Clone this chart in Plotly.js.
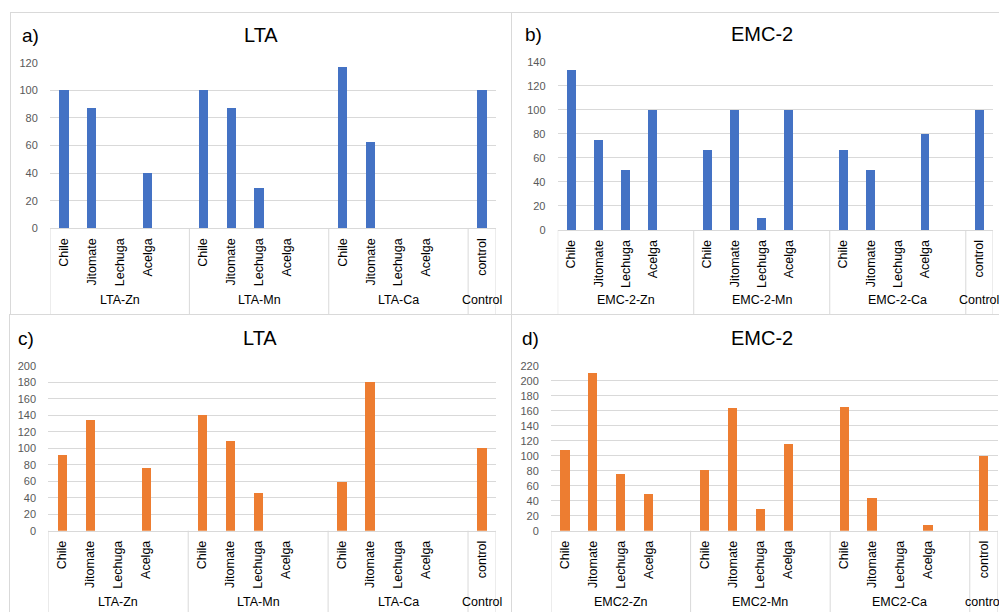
<!DOCTYPE html>
<html>
<head>
<meta charset="utf-8">
<script src="https://cdn.plot.ly/plotly-3.0.1.min.js"></script>
<style>html,body{margin:0;padding:0;background:#fff;}#chart{width:999px;height:612px;}</style>
</head>
<body>
<div id="chart"></div>
<script>
// ---- data ----
const crops = ['Chile', 'Jitomate', 'Lechuga', 'Acelga'];
const controlCrop = 'control';

const groupsA = ['LTA-Zn', 'LTA-Mn', 'LTA-Ca'];
const groupsB = ['EMC-2-Zn', 'EMC-2-Mn', 'EMC-2-Ca'];
const groupsC = ['LTA-Zn', 'LTA-Mn', 'LTA-Ca'];
const groupsD = ['EMC2-Zn', 'EMC2-Mn', 'EMC2-Ca'];

const valuesA = [100, 87.5, 0, 40, 100, 87.5, 29.4, 0, 116.7, 62.5, 0, 0];
const controlA = 100;
const valuesB = [133.3, 75, 50, 100, 66.7, 100, 10, 100, 66.7, 50, 0, 80];
const controlB = 100;
const valuesC = [92, 134.2, 0, 75.6, 140.6, 108.7, 45.3, 0, 58.7, 180.2, 0, 0];
const controlC = 100;
const valuesD = [107.2, 210.2, 75.1, 48.5, 80.4, 163.2, 28.9, 115.1, 164.5, 44, 0, 8];
const controlD = 100;

const yMaxA = 120, yMaxB = 140, yMaxC = 200, yMaxD = 220;

// ---- layout helpers ----
const W = 999, H = 612;
const px = v => v / W;
const py = v => 1 - v / H;
const BLUE = '#4472C4', ORANGE = '#ED7D31', GRID = '#d9d9d9';
const FONT = 'Liberation Sans, Arial, sans-serif';

const data = [];
const annotations = [];
const shapes = [];
const layout = {
  width: W, height: H,
  margin: {l: 0, r: 0, t: 0, b: 0},
  paper_bgcolor: '#ffffff', plot_bgcolor: '#ffffff',
  showlegend: false,
  bargap: 0,
  font: {family: FONT, color: '#000'}
};

function panel(n, groups, values, control, controlGroup, color, yMax, dom, title, letter) {
  const xs = [], ys = [];
  const tickvals = [], ticktext = [];
  groups.forEach((g, gi) => {
    crops.forEach((c, ci) => {
      const idx = gi * 5 + ci;
      xs.push(idx); ys.push(values[gi * 4 + ci]);
      tickvals.push(idx); ticktext.push(c);
    });
  });
  const cIdx = groups.length * 5;
  xs.push(cIdx); ys.push(control);
  tickvals.push(cIdx); ticktext.push(controlCrop);
  const sfx = n === 1 ? '' : String(n);
  data.push({
    type: 'bar', x: xs, y: ys, width: 0.33,
    marker: {color: color, line: {width: 0}},
    xaxis: 'x' + sfx, yaxis: 'y' + sfx, hoverinfo: 'x+y'
  });
  layout['xaxis' + sfx] = {
    domain: [px(dom.x0), px(dom.x1)], anchor: 'y' + sfx,
    range: [-0.5, cIdx + 0.5], type: 'linear',
    tickvals: tickvals, ticktext: ticktext, tickangle: -90,
    ticks: 'outside', ticklen: 4, tickcolor: 'rgba(0,0,0,0)',
    tickfont: {family: FONT, size: 12.5, color: '#000'},
    showgrid: false, zeroline: false,
    showline: true, linecolor: GRID, linewidth: 1, fixedrange: true
  };
  layout['yaxis' + sfx] = {
    domain: [py(dom.yb), py(dom.yt)], anchor: 'x' + sfx,
    range: [0, yMax], dtick: 20, tick0: 0,
    ticks: 'outside', ticklen: 9, tickcolor: 'rgba(0,0,0,0)',
    tickfont: {family: FONT, size: 11, color: '#595959'},
    showgrid: true, gridcolor: GRID, gridwidth: 1,
    zeroline: false, showline: false, fixedrange: true
  };
  // dividers
  const bounds = [];
  for (let gi = 0; gi <= groups.length; gi++) bounds.push(gi * 5 - 0.5);
  bounds.push(cIdx + 0.5);
  bounds.forEach(b => shapes.push({
    type: 'line', xref: 'x' + sfx, yref: 'paper',
    x0: b, x1: b, y0: py(dom.yb), y1: py(dom.panelBottom),
    line: {color: GRID, width: 1}
  }));
  // group labels
  groups.forEach((g, gi) => annotations.push({
    xref: 'x' + sfx, yref: 'paper', x: gi * 5 + 2, y: py(dom.groupY),
    text: g, showarrow: false, xanchor: 'center', yanchor: 'middle',
    font: {family: FONT, size: 12.5, color: '#000'}
  }));
  annotations.push({
    xref: 'x' + sfx, yref: 'paper', x: cIdx, y: py(dom.groupY),
    text: controlGroup, showarrow: false, xanchor: 'center', yanchor: 'middle',
    font: {family: FONT, size: 12.5, color: '#000'}
  });
  // title & letter
  annotations.push({
    xref: 'paper', yref: 'paper', x: px(dom.titleX), y: py(dom.titleY),
    text: title, showarrow: false, xanchor: 'center', yanchor: 'middle',
    font: {family: FONT, size: 20, color: '#000'}
  });
  annotations.push({
    xref: 'paper', yref: 'paper', x: px(dom.letterX), y: py(dom.titleY),
    text: letter, showarrow: false, xanchor: 'left', yanchor: 'middle',
    font: {family: FONT, size: 19, color: '#000'}
  });
}

panel(1, groupsA, valuesA, controlA, 'Control', BLUE, yMaxA,
  {x0: 50, x1: 496, yt: 62.7, yb: 228.3, panelBottom: 314, groupY: 300, titleX: 261, titleY: 35, letterX: 20},
  'LTA', 'a)');
panel(2, groupsB, valuesB, controlB, 'Control', BLUE, yMaxB,
  {x0: 557.7, x1: 993, yt: 61.7, yb: 230, panelBottom: 314, groupY: 300, titleX: 762, titleY: 34, letterX: 523},
  'EMC-2', 'b)');
panel(3, groupsC, valuesC, controlC, 'Control', ORANGE, yMaxC,
  {x0: 48.3, x1: 496, yt: 365.7, yb: 530.7, panelBottom: 612, groupY: 601.5, titleX: 260, titleY: 338, letterX: 16},
  'LTA', 'c)');
panel(4, groupsD, valuesD, controlD, 'control', ORANGE, yMaxD,
  {x0: 551, x1: 997.7, yt: 365.7, yb: 530.7, panelBottom: 612, groupY: 601.5, titleX: 762, titleY: 338, letterX: 520},
  'EMC-2', 'd)');

// panel borders
const border = (x0, y0, x1, y1) => shapes.push({
  type: 'line', xref: 'paper', yref: 'paper',
  x0: px(x0), x1: px(x1), y0: py(y0), y1: py(y1),
  line: {color: GRID, width: 1}
});
border(10, 12.5, 999, 12.5);
border(10.5, 12.5, 10.5, 314.5);
border(511.5, 12.5, 511.5, 612);
border(9, 314.5, 999, 314.5);
border(9.5, 314.5, 9.5, 612);

layout.annotations = annotations;
layout.shapes = shapes;

Plotly.newPlot('chart', data, layout, {displayModeBar: false, staticPlot: true});
</script>
</body>
</html>
